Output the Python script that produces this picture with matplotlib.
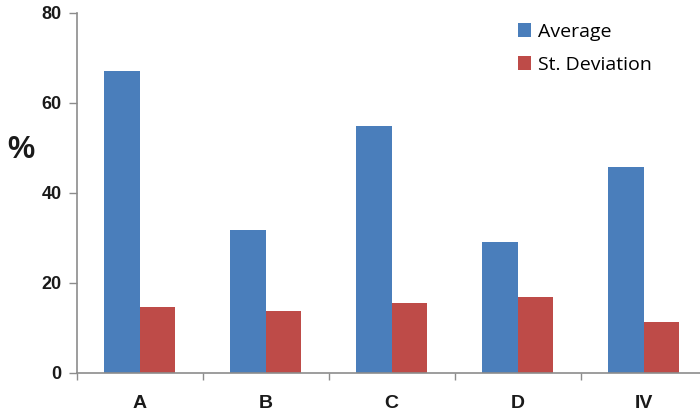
import numpy as np
import matplotlib
matplotlib.use('Agg')
import matplotlib.pyplot as plt

categories = ['A', 'B', 'C', 'D', 'IV']
average = [67.1, 31.8, 54.8, 29.1, 45.8]
st_dev = [14.5, 13.8, 15.5, 16.8, 11.2]

blue = '#4a7ebb'
red = '#be4b48'
grey = '#8c8c8c'

fig = plt.figure(figsize=(7.0, 4.17), dpi=100)
# axes runs a bit past the right edge, as in the original
ax = fig.add_axes([76.7 / 700, 44.3 / 417, 630 / 700, 360 / 417])

x = np.arange(len(categories))
w = 0.28
ax.bar(x - w / 2, average, w, color=blue, label='Average')
ax.bar(x + w / 2, st_dev, w, color=red, label='St. Deviation')

ax.set_xlim(-0.5, len(categories) - 0.5)
ax.set_ylim(0, 80)
ax.set_yticks([0, 20, 40, 60, 80])

# category labels at centres, tick marks at boundaries
ax.set_xticks(np.arange(len(categories) + 1) - 0.5)
ax.set_xticklabels([])
ax.set_xticks(x, minor=True)
ax.set_xticklabels(categories, minor=True, fontsize=14, fontweight='bold',
                   family='Liberation Sans', color='#1a1a1a')
ax.tick_params(axis='x', which='minor', length=0, pad=16)
ax.tick_params(axis='x', which='major', length=5, color=grey, width=1)
ax.tick_params(axis='y', length=6, color=grey, width=1, pad=5)
for lab in ax.get_yticklabels():
    lab.set_fontsize(13)
    lab.set_fontweight('bold')
    lab.set_family('Liberation Sans')
    lab.set_color('#1a1a1a')

for s in ['top', 'right']:
    ax.spines[s].set_visible(False)
for s in ['left', 'bottom']:
    ax.spines[s].set_color(grey)
    ax.spines[s].set_linewidth(1.2)

fig.text(21 / 700, 1 - 150 / 417, '%', fontsize=22, fontweight='bold',
         family='Liberation Sans', ha='center', va='center', color='#1a1a1a')

ax.legend(loc='upper left', bbox_to_anchor=(500 / 700, 1 - 5 / 417),
          bbox_transform=fig.transFigure, frameon=False,
          prop={'family': 'Open Sans', 'size': 14},
          handlelength=0.7, handleheight=0.7, handletextpad=0.35,
          labelspacing=0.8)

fig.savefig('out.png', dpi=100)
